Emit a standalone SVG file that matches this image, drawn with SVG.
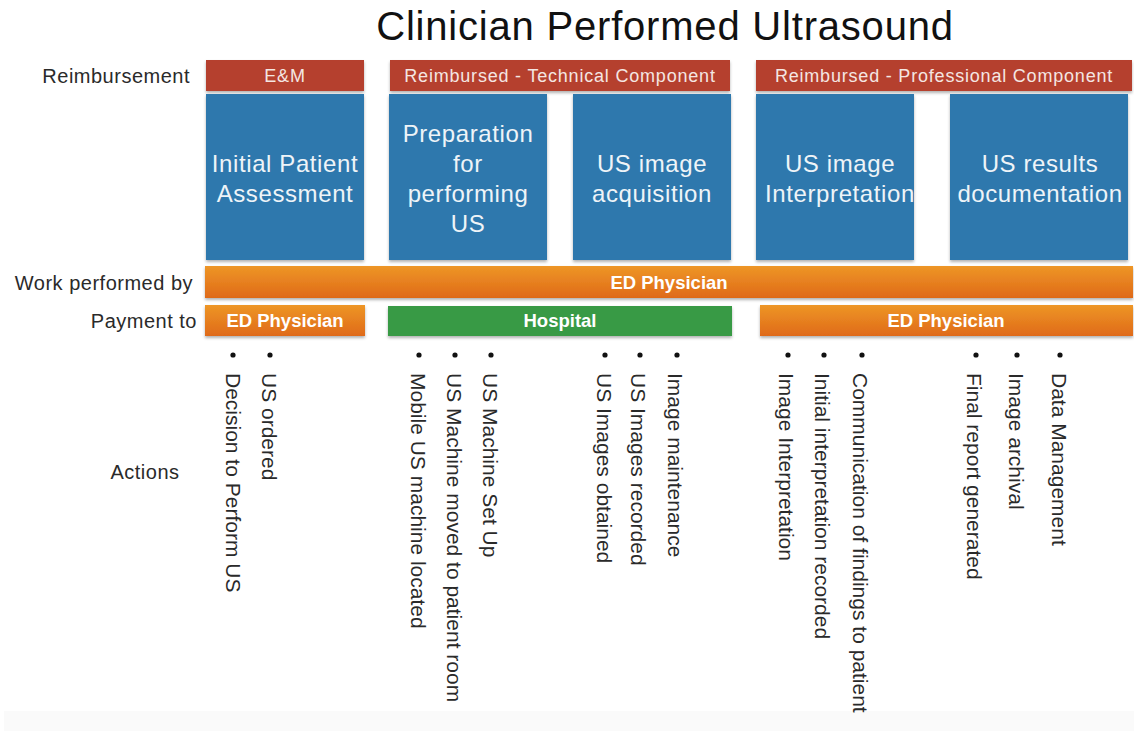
<svg xmlns="http://www.w3.org/2000/svg" width="1134" height="731" viewBox="0 0 1134 731">
<defs>
<linearGradient id="og" x1="0" y1="0" x2="0" y2="1">
<stop offset="0" stop-color="#ee9626"/>
<stop offset="1" stop-color="#df6a19"/>
</linearGradient>
<filter id="sh" x="-5%" y="-20%" width="110%" height="150%">
<feDropShadow dx="0" dy="2" stdDeviation="1.5" flood-color="#000" flood-opacity="0.3"/>
</filter>
</defs>
<style>
text{font-family:"Liberation Sans",Arial,sans-serif}
.title{font-size:40px;fill:#111;letter-spacing:0.8px}
.lbl{font-size:20px;fill:#2a2a2a;letter-spacing:0.5px}
.red{fill:#b5402f;filter:url(#sh)}
.blue{fill:#2d78ad;filter:url(#sh)}
.org{fill:url(#og);filter:url(#sh)}
.grn{fill:#379a45;filter:url(#sh)}
.rt{font-size:18px;fill:#f4e6e2;letter-spacing:0.8px;text-anchor:middle}
.bt{font-size:24px;fill:#eef4f8;letter-spacing:0.6px;text-anchor:middle}
.wt{font-size:18.5px;font-weight:bold;fill:#fff;text-anchor:middle}
.act{font-size:21px;fill:#2a2a2a}
.dot{fill:#111}
</style>
<rect x="0" y="0" width="1134" height="731" fill="#fff"/>
<rect x="4" y="711" width="1130" height="20" fill="#fafafa"/>
<text class="title" x="665" y="40" text-anchor="middle">Clinician Performed Ultrasound</text>

<g id="labels">
<text class="lbl" x="190" y="83" text-anchor="end">Reimbursement</text>
<text class="lbl" x="193" y="290" text-anchor="end">Work performed by</text>
<text class="lbl" x="197" y="328" text-anchor="end">Payment to</text>
<text class="lbl" x="145" y="479" text-anchor="middle">Actions</text>
</g>

<g id="reimb-em">
<rect class="red" x="206" y="60" width="158" height="31"/>
<text class="rt" x="285" y="82">E&amp;M</text>
</g>
<g id="reimb-tech">
<rect class="red" x="390" y="60" width="340" height="31"/>
<text class="rt" x="560" y="82">Reimbursed - Technical Component</text>
</g>
<g id="reimb-prof">
<rect class="red" x="756" y="60" width="376" height="31"/>
<text class="rt" x="944" y="82">Reimbursed - Professional Component</text>
</g>

<g id="box-assessment">
<rect class="blue" x="206" y="94" width="158" height="166"/>
<text class="bt" x="285" y="172">Initial Patient</text>
<text class="bt" x="285" y="202">Assessment</text>
</g>
<g id="box-preparation">
<rect class="blue" x="389" y="94" width="158" height="166"/>
<text class="bt" x="468" y="142">Preparation</text>
<text class="bt" x="468" y="172">for</text>
<text class="bt" x="468" y="202">performing</text>
<text class="bt" x="468" y="232">US</text>
</g>
<g id="box-acquisition">
<rect class="blue" x="573" y="94" width="158" height="166"/>
<text class="bt" x="652" y="172">US image</text>
<text class="bt" x="652" y="202">acquisition</text>
</g>
<g id="box-interpretation">
<rect class="blue" x="756" y="94" width="158" height="166"/>
<text class="bt" x="840" y="172">US image</text>
<text class="bt" x="840" y="202">Interpretation</text>
</g>
<g id="box-documentation">
<rect class="blue" x="950" y="94" width="178" height="166"/>
<text class="bt" x="1040" y="172">US results</text>
<text class="bt" x="1040" y="202">documentation</text>
</g>

<g id="work-bar">
<rect class="org" x="205" y="266" width="928" height="32"/>
<text class="wt" x="669" y="289">ED Physician</text>
</g>
<g id="pay-ed-left">
<rect class="org" x="205" y="305" width="160" height="31"/>
<text class="wt" x="285" y="327">ED Physician</text>
</g>
<g id="pay-hospital">
<rect class="grn" x="388" y="306" width="344" height="30"/>
<text class="wt" x="560" y="327">Hospital</text>
</g>
<g id="pay-ed-right">
<rect class="org" x="760" y="305" width="373" height="31"/>
<text class="wt" x="946" y="327">ED Physician</text>
</g>

<g id="actions-em">
<circle class="dot" cx="233" cy="355" r="2.6"/>
<circle class="dot" cx="270" cy="355" r="2.6"/>
<text class="act" transform="translate(226,373) rotate(90)">Decision to Perform US</text>
<text class="act" transform="translate(262,373) rotate(90)">US ordered</text>
</g>
<g id="actions-prep">
<circle class="dot" cx="419" cy="355" r="2.6"/>
<circle class="dot" cx="455" cy="355" r="2.6"/>
<circle class="dot" cx="491" cy="355" r="2.6"/>
<text class="act" transform="translate(411,373) rotate(90)">Mobile US machine located</text>
<text class="act" transform="translate(447,373) rotate(90)">US Machine moved to patient room</text>
<text class="act" transform="translate(483,373) rotate(90)">US Machine Set Up</text>
</g>
<g id="actions-acq">
<circle class="dot" cx="605" cy="355" r="2.6"/>
<circle class="dot" cx="640" cy="355" r="2.6"/>
<circle class="dot" cx="677" cy="355" r="2.6"/>
<text class="act" transform="translate(597,373) rotate(90)">US Images obtained</text>
<text class="act" transform="translate(631,373) rotate(90)">US Images recorded</text>
<text class="act" transform="translate(668,373) rotate(90)">Image maintenance</text>
</g>
<g id="actions-interp">
<circle class="dot" cx="788" cy="355" r="2.6"/>
<circle class="dot" cx="824" cy="355" r="2.6"/>
<circle class="dot" cx="862" cy="355" r="2.6"/>
<text class="act" transform="translate(779,373) rotate(90)">Image Interpretation</text>
<text class="act" transform="translate(815,373) rotate(90)">Initial interpretation recorded</text>
<text class="act" transform="translate(853,373) rotate(90)">Communication of findings to patient</text>
</g>
<g id="actions-doc">
<circle class="dot" cx="976" cy="355" r="2.6"/>
<circle class="dot" cx="1017" cy="355" r="2.6"/>
<circle class="dot" cx="1060" cy="355" r="2.6"/>
<text class="act" transform="translate(967,373) rotate(90)">Final report generated</text>
<text class="act" transform="translate(1009,373) rotate(90)">Image archival</text>
<text class="act" transform="translate(1052,373) rotate(90)">Data Management</text>
</g>
</svg>
